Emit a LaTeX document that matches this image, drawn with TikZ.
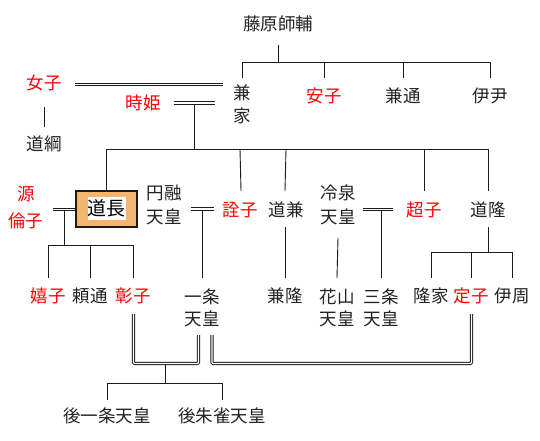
\documentclass[tikz,border=0pt]{standalone}
\usepackage{fontspec}
\setmainfont{Noto Sans CJK JP}
\usetikzlibrary{calc}
\definecolor{txt}{HTML}{222222}
\definecolor{lnc}{HTML}{1A1A1A}
\definecolor{boxfill}{HTML}{F5B56E}
\definecolor{jred}{HTML}{FF0000}
\tikzset{
  person/.style={inner sep=0pt, text=txt, align=center, font=\fontsize{17.5}{23}\selectfont},
  woman/.style={person, text=jred},
  ln/.style={draw=lnc, line width=0.9pt},
  wed/.style={draw=lnc, line width=0.8pt, double=white, double distance=1.6pt},
  couple/.style={draw=lnc, line width=0.9pt, double=white, double distance=1.3pt, rounded corners=1pt},
  headbox/.style={draw=lnc, line width=1.3pt, fill=boxfill, minimum width=61pt, minimum height=36pt, inner sep=0pt}
}
\begin{document}
\begin{tikzpicture}[x=1pt,y=-1pt]
\useasboundingbox (0,0) rectangle (540,440);
% nodes
\node[person] (moro) at (278,24) {藤原師輔};
\node[person] (kane) at (242,104) {兼\\家};
\node[woman] (yasu) at (324,96) {安子};
\node[person] (kanemichi) at (403,96) {兼通};
\node[person] (kore) at (490,96) {伊尹};
\node[woman] (nyoshi) at (44,83) {女子};
\node[person] (michitsuna) at (44,144) {道綱};
\node[woman] (toki) at (143,103) {時姫};
\node[woman, font=\fontsize{17.5}{27}\selectfont] (rin) at (26,207) {源\\倫子};
\node[headbox] (michinaga) at (106.5,209) {};
\node[fill=white, inner sep=0pt, minimum width=37pt, minimum height=23pt, text=black, font=\fontsize{19}{23}\selectfont] (naganame) at (106.5,208.5) {道長};
\node[person, font=\fontsize{17.5}{24}\selectfont] (enyu) at (164,205) {円融\\天皇};
\node[woman] (sen) at (240,210) {詮子};
\node[person] (michikane) at (286,210) {道兼};
\node[person, font=\fontsize{17.5}{24}\selectfont] (reizei) at (338,205) {冷泉\\天皇};
\node[woman] (cho) at (424,210) {超子};
\node[person] (michitaka) at (488,210) {道隆};
\node[woman] (ki) at (48,296) {嬉子};
\node[person] (yorimichi) at (90,296) {頼通};
\node[woman] (sho) at (133,296) {彰子};
\node[person, font=\fontsize{17.5}{22}\selectfont] (ichijo) at (202,308) {一条\\天皇};
\node[person] (kanetaka) at (285,296) {兼隆};
\node[person, font=\fontsize{17.5}{22}\selectfont] (kazan) at (337,308) {花山\\天皇};
\node[person, font=\fontsize{17.5}{22}\selectfont] (sanjo) at (381,308) {三条\\天皇};
\node[person] (takaie) at (431,296) {隆家};
\node[woman] (tei) at (471,296) {定子};
\node[person] (korechika) at (512,296) {伊周};
\node[person] (goichijo) at (107,416) {後一条天皇};
\node[person] (gosuzaku) at (222,416) {後朱雀天皇};
% Morosuke's children
\draw[ln] (moro |- 0,45) -- (moro |- 0,62);
\draw[ln] (kane |- 0,78) -- (kane |- 0,62) -- (kore |- 0,62) -- (kore |- 0,78);
\draw[ln] (yasu |- 0,62) -- (yasu |- 0,78);
\draw[ln] (kanemichi |- 0,62) -- (kanemichi |- 0,78);
% Kaneie's wives
\draw[wed] (75,84.5) -- (223,84.5);
\draw[ln] (nyoshi |- 0,107) -- (michitsuna |- 0,127);
\draw[wed] (174,103) -- (215,103);
\draw[ln] (194,104.5) -- (194,149);
% Kaneie's children
\draw[ln] (michinaga.north) -- (michinaga |- 0,149) -- (michitaka |- 0,149) -- (michitaka |- 0,191);
\draw[ln] (sen |- 0,149) -- (241,191);
\draw[ln] (michikane |- 0,149) -- (285,191);
\draw[ln] (cho |- 0,149) -- (cho |- 0,191);
% Michinaga & Rinshi
\draw[wed] (53,209.5) -- (michinaga.west |- 0,209.5);
\draw[ln] (64,210.5) -- (64,245);
\draw[ln] (ki |- 0,278) -- (ki |- 0,245) -- (sho |- 0,245) -- (sho |- 0,278);
\draw[ln] (yorimichi |- 0,245) -- (yorimichi |- 0,278);
% En'yu & Senshi
\draw[wed] (191,209) -- (214,209);
\draw[ln] (ichijo |- 0,210) -- (ichijo |- 0,278);
% Michikane
\draw[ln] (285,227) -- (kanetaka |- 0,278);
% Reizei & Choshi
\draw[wed] (363,209.5) -- (393,209.5);
\draw[ln] (sanjo |- 0,210.5) -- (sanjo |- 0,278);
\draw[ln] (reizei |- 0,238) -- (kazan |- 0,278);
% Michitaka
\draw[ln] (michitaka |- 0,227) -- (michitaka |- 0,252);
\draw[ln] (takaie |- 0,278) -- (takaie |- 0,252) -- (korechika |- 0,252) -- (korechika |- 0,278);
\draw[ln] (tei |- 0,252) -- (tei |- 0,278);
% Ichijo's consorts
\draw[couple] (133.5,314) -- (133.5,363.5) -- (198.5,363.5) -- (198.5,335);
\draw[couple] (212,335) -- (212,363.5) -- (471.5,363.5) -- (471.5,314);
\draw[ln] (165,365) -- (165,383);
\draw[ln] (goichijo |- 0,400) -- (goichijo |- 0,383) -- (gosuzaku |- 0,383) -- (gosuzaku |- 0,400);
\end{tikzpicture}
\end{document}
